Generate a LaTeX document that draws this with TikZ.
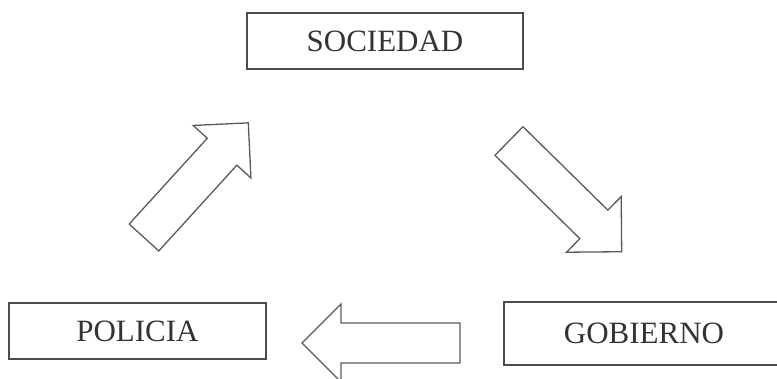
\documentclass[tikz,border=0pt]{standalone}
\usepackage{fontspec}
\setmainfont{Liberation Serif}

\begin{document}
\begin{tikzpicture}[x=1pt, y=-1pt]
    		\tikzstyle{caja}=[draw=black!70, line width=1.5pt, rectangle, inner sep=0pt, font=\fontsize{31}{31}\selectfont, text=black!80]
    		\tikzstyle{bloque}=[draw=black!65, line width=1.3pt, line join=miter]
    	
    		\useasboundingbox (0,0) rectangle (777,379);
    		% boxes
    		\node [caja, minimum width=276pt, minimum height=56pt] (sociedad) at (385,41) {SOCIEDAD};
    		\node [caja, minimum width=257pt, minimum height=56pt] (policia) at (137.5,331) {POLICIA};
    		\node [caja, minimum width=280pt, minimum height=63pt] (gobierno) at (644,333.5) {GOBIERNO};
    		% block arrows
    		\coordinate (colaA) at (509,141);
    		\coordinate (colaB) at (460,343);
    		\coordinate (colaC) at (144,237.5);
    		\draw [bloque, shift={(colaA)}, rotate=-44.5] (0,-20) -- (119,-20) -- (119,-39) -- (158,0) -- (119,39) -- (119,20) -- (0,20) -- cycle;
    		\draw [bloque, shift={(colaB)}, rotate=180] (0,-20) -- (119,-20) -- (119,-39) -- (158,0) -- (119,39) -- (119,20) -- (0,20) -- cycle;
    		\draw [bloque, shift={(colaC)}, rotate=47.7] (0,-20) -- (116,-20) -- (116,-39) -- (155,0) -- (116,39) -- (116,20) -- (0,20) -- cycle;
    		
\end{tikzpicture}
\end{document}
